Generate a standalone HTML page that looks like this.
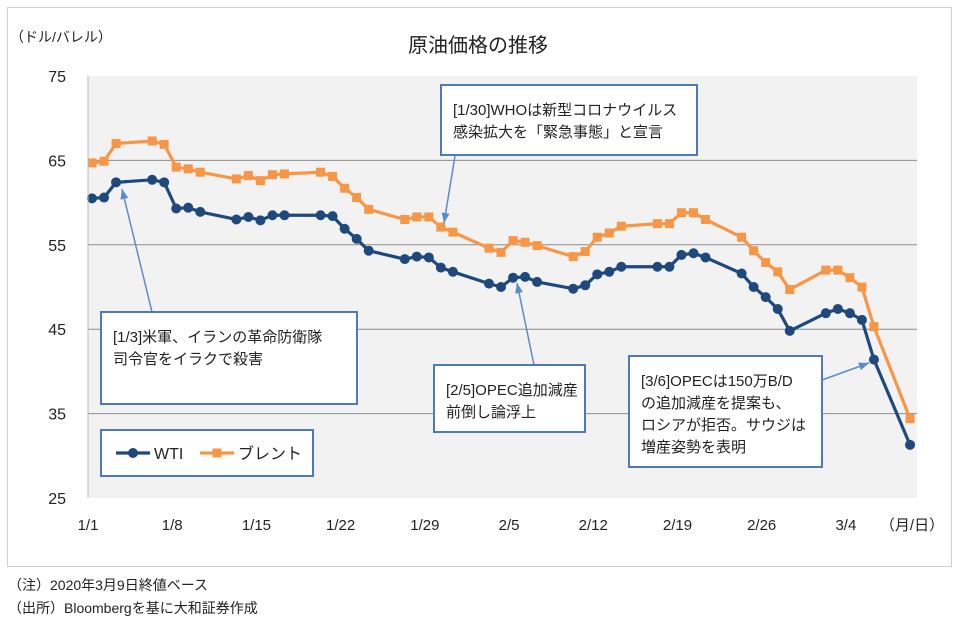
<!DOCTYPE html>
<html><head><meta charset="utf-8"><style>
body{margin:0;background:#fff;font-family:"Liberation Sans","Noto Sans CJK JP",sans-serif;}
svg text{font-family:"Liberation Sans","Noto Sans CJK JP",sans-serif;}
</style></head><body>
<svg id="chart" width="960" height="627" xmlns="http://www.w3.org/2000/svg">
<rect x="7.5" y="7.5" width="944" height="559" fill="#fff" stroke="#d0d0d0"/>
<rect x="88" y="76" width="829" height="422" fill="#f2f2f2"/>
<text x="478" y="52" font-size="20" text-anchor="middle" fill="#222">原油価格の推移</text>
<text x="10" y="42" font-size="14" fill="#222">（ドル/バレル）</text>
<text x="912" y="530" font-size="15" text-anchor="middle" fill="#222">（月/日）</text>
<g id="grid"></g><g id="yticks"></g><g id="xticks"></g><g id="series"></g>
<line x1="88" y1="76" x2="88" y2="498" stroke="#bbb"/>
<g id="ann"></g>
<text x="8" y="590" font-size="14" fill="#222">（注）2020年3月9日終値ベース</text>
<text x="8" y="613" font-size="14" fill="#222">（出所）Bloombergを基に大和証券作成</text>
</svg>
<script>
const dates=["1/1","1/2","1/3","1/6","1/7","1/8","1/9","1/10","1/13","1/14","1/15","1/16","1/17","1/20","1/21","1/22","1/23","1/24","1/27","1/28","1/29","1/30","1/31","2/3","2/4","2/5","2/6","2/7","2/10","2/11","2/12","2/13","2/14","2/17","2/18","2/19","2/20","2/21","2/24","2/25","2/26","2/27","2/28","3/2","3/3","3/4","3/5","3/6","3/9"];
const wti=[60.5,60.6,62.4,62.7,62.4,59.3,59.4,58.9,58.0,58.3,57.9,58.5,58.5,58.5,58.4,56.9,55.7,54.3,53.3,53.6,53.5,52.3,51.8,50.4,50.0,51.1,51.2,50.6,49.8,50.2,51.5,51.8,52.4,52.4,52.4,53.8,54.0,53.5,51.6,50.0,48.8,47.4,44.8,46.9,47.4,46.9,46.1,41.4,31.3];
const brent=[64.7,64.9,67.0,67.3,66.9,64.2,64.0,63.6,62.8,63.2,62.6,63.3,63.4,63.6,63.1,61.7,60.6,59.2,58.0,58.3,58.3,57.1,56.5,54.6,54.1,55.5,55.3,54.9,53.6,54.2,55.9,56.4,57.2,57.5,57.5,58.8,58.8,58.0,55.9,54.3,52.9,51.8,49.7,52.0,52.0,51.1,50.0,45.3,34.4];
const yTicks=[25,35,45,55,65,75];
const xTickLabels=["1/1","1/8","1/15","1/22","1/29","2/5","2/12","2/19","2/26","3/4"];
const NS="http://www.w3.org/2000/svg";
function dayOf(s){const [m,d]=s.split("/").map(Number);return (m===1?0:m===2?31:60)+d-1;}
function xS(s){return 92+dayOf(s)*12.03;}
function yS(v){return 498-(v-25)*8.44;}
function mk(tag,attrs,parent,txt){const e=document.createElementNS(NS,tag);for(const k in attrs)e.setAttribute(k,attrs[k]);if(txt!==undefined)e.textContent=txt;document.getElementById(parent).appendChild(e);return e;}
yTicks.forEach(v=>{
 if(v>25&&v<75){const g=mk("line",{x1:88,x2:917,y1:yS(v),y2:yS(v),stroke:"#8c8c8c","stroke-width":1},"grid");
 
 }
 const t=mk("text",{x:66,y:yS(v)+6,"font-size":16,"text-anchor":"end",fill:"#222"},"yticks",String(v));
 
 
});
xTickLabels.forEach(s=>{
 const t=mk("text",{x:xS(s)-4,y:530,"font-size":15,"text-anchor":"middle",fill:"#222"},"xticks",s);
 
 
});
function drawSeries(vals,color,name,sq){
 const pts=vals.map((v,i)=>xS(dates[i])+","+yS(v)).join(" ");
 const l=mk("polyline",{points:pts,fill:"none",stroke:color,"stroke-width":3.2,"stroke-linejoin":"round"},"series");
 
 
 vals.forEach((v,i)=>{
  let m;
  if(sq)m=mk("rect",{x:xS(dates[i])-4.5,y:yS(v)-4.5,width:9,height:9,fill:color},"series");
  else m=mk("circle",{cx:xS(dates[i]),cy:yS(v),r:5,fill:color},"series");
  
  
 });
}
drawSeries(brent,"#f79646","brent",true);
drawSeries(wti,"#1f497d","wti",false);
function arrow(x1,y1,x2,y2,name){
 const a=mk("line",{x1,y1,x2,y2,stroke:"#5b8cc8","stroke-width":1.5},"ann");
 
 
 const ang=Math.atan2(y2-y1,x2-x1),L=10,w=4;
 const bx=x2-L*Math.cos(ang),by=y2-L*Math.sin(ang);
 const p=mk("polygon",{points:`${x2},${y2} ${bx-w*Math.sin(ang)},${by+w*Math.cos(ang)} ${bx+w*Math.sin(ang)},${by-w*Math.cos(ang)}`,fill:"#5b8cc8"},"ann");
 
 
}
arrow(455,156,444,223,"arrow-1-30");
arrow(152,312,122,189,"arrow-1-3");
arrow(534,365,517,283,"arrow-2-5");
arrow(822,380,869,363,"arrow-3-6");
function box(x,y,w,h,lines,name,tx){
 const r=mk("rect",{x,y,width:w,height:h,fill:"#fff",stroke:"#4f7bb5","stroke-width":2},"ann");
 
 
 lines.forEach((s,i)=>{const t=mk("text",{x:x+(tx||12),y:y+30+i*22,"font-size":15,fill:"#222"},"ann",s);
 
 });
}
box(441,85,256,70,["[1/30]WHOは新型コロナウイルス","感染拡大を「緊急事態」と宣言"],"annotation-1-30");
box(101,312,256,92,["[1/3]米軍、イランの革命防衛隊","司令官をイラクで殺害"],"annotation-1-3");
box(434,365,151,67,["[2/5]OPEC追加減産","前倒し論浮上"],"annotation-2-5");
box(629,356,193,111,["[3/6]OPECは150万B/D","の追加減産を提案も、","ロシアが拒否。サウジは","増産姿勢を表明"],"annotation-3-6");
const lg=mk("rect",{x:101,y:430,width:212,height:46,fill:"#fff",stroke:"#4f7bb5","stroke-width":2},"ann");


const l1=mk("line",{x1:116,y1:453,x2:150,y2:453,stroke:"#1f497d","stroke-width":3.2},"ann");


mk("circle",{cx:133,cy:453,r:5,fill:"#1f497d"},"ann");
const t1=mk("text",{x:154,y:459,"font-size":16,fill:"#222"},"ann","WTI");


const l2=mk("line",{x1:200,y1:453,x2:234,y2:453,stroke:"#f79646","stroke-width":3.2},"ann");


mk("rect",{x:212.5,y:448.5,width:9,height:9,fill:"#f79646"},"ann");
const t2=mk("text",{x:238,y:459,"font-size":16,fill:"#222"},"ann","ブレント");


</script>
</body></html>
